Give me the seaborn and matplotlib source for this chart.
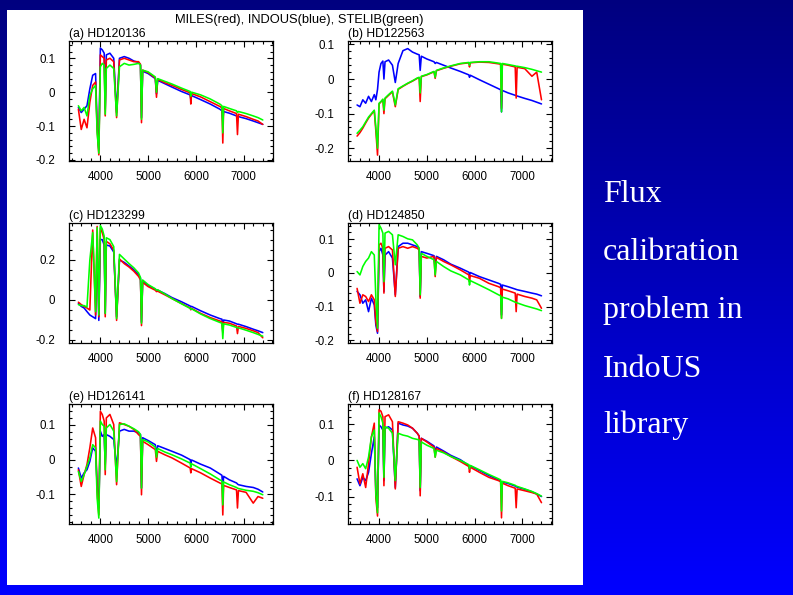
import numpy as np
import pandas as pd
import matplotlib
matplotlib.use("Agg")
import matplotlib.pyplot as plt
from matplotlib.patches import Rectangle
from matplotlib.ticker import MultipleLocator, FuncFormatter
import seaborn as sns

# ---------------- data ----------------
WAVELENGTH = [3540, 3600, 3660, 3720, 3780, 3840, 3900, 3933, 3968, 4000,
              4040, 4080, 4102, 4125, 4200, 4280, 4340, 4400, 4500, 4600,
              4700, 4800, 4840, 4861, 4885, 5000, 5150, 5175, 5200, 5350,
              5500, 5700, 5880, 5893, 5910, 6100, 6300, 6500, 6545, 6563,
              6580, 6700, 6850, 6870, 6890, 7050, 7200, 7300, 7400]

LIBRARIES = ["INDOUS", "MILES", "STELIB"]
PANEL_TITLES = ["(a) HD120136", "(b) HD122563", "(c) HD123299",
                "(d) HD124850", "(e) HD126141", "(f) HD128167"]
SUPTITLE = "MILES(red), INDOUS(blue), STELIB(green)"
SIDE_TEXT = ["Flux", "calibration", "problem in", "IndoUS", "library"]

A_INDOUS = [-0.045, -0.060, -0.050, -0.040, 0.010, 0.050, 0.055, -0.100, -0.170, 0.130,
            0.125, 0.115, -0.050, 0.110, 0.115, 0.100, -0.060, 0.100, 0.105, 0.100,
            0.092, 0.088, 0.080, -0.075, 0.062, 0.055, 0.040, -0.005, 0.035, 0.025,
            0.015, 0.002, -0.008, -0.020, -0.010, -0.022, -0.035, -0.050, -0.055, -0.085,
            -0.057, -0.062, -0.070, -0.072, -0.072, -0.078, -0.085, -0.090, -0.095]
A_MILES = [-0.050, -0.110, -0.080, -0.105, -0.030, 0.020, 0.030, -0.110, -0.185, 0.110,
           0.105, 0.100, -0.070, 0.095, 0.100, 0.090, -0.075, 0.095, 0.100, 0.095,
           0.090, 0.090, 0.082, -0.090, 0.065, 0.058, 0.042, -0.015, 0.038, 0.028,
           0.020, 0.008, -0.002, -0.035, -0.004, -0.014, -0.028, -0.042, -0.046, -0.150,
           -0.048, -0.055, -0.063, -0.125, -0.065, -0.072, -0.080, -0.085, -0.095]
A_STELIB = [-0.040, -0.055, -0.045, -0.070, -0.010, 0.010, 0.020, -0.120, -0.180, 0.075,
            0.085, 0.080, -0.065, 0.070, 0.080, 0.070, -0.070, 0.075, 0.085, 0.080,
            0.082, 0.085, 0.080, -0.080, 0.065, 0.060, 0.045, 0.000, 0.040, 0.032,
            0.024, 0.012, 0.002, -0.012, 0.000, -0.008, -0.020, -0.035, -0.040, -0.120,
            -0.042, -0.048, -0.055, -0.060, -0.057, -0.063, -0.070, -0.075, -0.082]

B_INDOUS = [-0.075, -0.080, -0.060, -0.070, -0.050, -0.065, -0.045, -0.060, -0.030, 0.020,
            0.045, 0.052, 0.000, 0.050, 0.055, 0.040, -0.010, 0.045, 0.082, 0.088,
            0.078, 0.072, 0.070, 0.025, 0.066, 0.058, 0.050, 0.045, 0.048, 0.040,
            0.032, 0.022, 0.012, 0.005, 0.011, -0.002, -0.015, -0.028, -0.031, -0.095,
            -0.033, -0.040, -0.047, -0.048, -0.049, -0.056, -0.062, -0.067, -0.072]
B_MILES = [-0.165, -0.155, -0.142, -0.127, -0.113, -0.102, -0.092, -0.150, -0.220, -0.072,
           -0.066, -0.060, -0.100, -0.057, -0.047, -0.037, -0.080, -0.030, -0.021, -0.013,
           -0.006, 0.002, 0.004, -0.065, 0.007, 0.012, 0.021, 0.002, 0.024, 0.031,
           0.037, 0.044, 0.047, 0.035, 0.047, 0.049, 0.048, 0.044, 0.043, -0.085,
           0.043, 0.040, 0.035, -0.055, 0.034, 0.030, 0.008, 0.020, -0.060]
B_STELIB = [-0.157, -0.148, -0.138, -0.124, -0.110, -0.100, -0.090, -0.140, -0.200, -0.070,
            -0.065, -0.058, -0.090, -0.055, -0.045, -0.035, -0.075, -0.028, -0.020, -0.012,
            -0.005, 0.003, 0.005, -0.040, 0.008, 0.013, 0.022, 0.005, 0.025, 0.032,
            0.038, 0.045, 0.048, 0.040, 0.048, 0.050, 0.050, 0.046, 0.045, -0.095,
            0.045, 0.042, 0.038, 0.037, 0.037, 0.033, 0.028, 0.024, 0.020]

C_INDOUS = [-0.018, -0.032, -0.040, -0.058, -0.075, -0.084, -0.093, 0.275, -0.102, 0.302,
            0.302, 0.275, -0.067, 0.275, 0.270, 0.240, -0.084, 0.200, 0.188, 0.170,
            0.151, 0.126, 0.109, -0.111, 0.095, 0.072, 0.054, 0.049, 0.049, 0.032,
            0.012, -0.009, -0.030, -0.035, -0.032, -0.054, -0.075, -0.093, -0.096, -0.154,
            -0.100, -0.105, -0.119, -0.121, -0.121, -0.133, -0.146, -0.154, -0.163]
C_MILES = [-0.011, -0.023, -0.032, -0.040, -0.050, 0.350, -0.075, 0.368, -0.084, 0.360,
           0.337, 0.302, -0.084, 0.293, 0.281, 0.249, -0.102, 0.205, 0.182, 0.165,
           0.144, 0.118, 0.100, -0.128, 0.088, 0.067, 0.049, 0.042, 0.044, 0.026,
           0.007, -0.018, -0.040, -0.049, -0.042, -0.067, -0.088, -0.105, -0.109, -0.163,
           -0.112, -0.116, -0.130, -0.168, -0.132, -0.142, -0.154, -0.163, -0.189]
C_STELIB = [-0.023, -0.028, -0.028, -0.035, 0.200, 0.337, -0.058, 0.362, -0.075, 0.372,
            0.355, 0.319, -0.067, 0.311, 0.302, 0.267, -0.093, 0.228, 0.205, 0.182,
            0.161, 0.135, 0.112, -0.116, 0.100, 0.077, 0.056, 0.049, 0.051, 0.030,
            0.007, -0.019, -0.042, -0.046, -0.044, -0.070, -0.093, -0.112, -0.116, -0.193,
            -0.119, -0.125, -0.137, -0.139, -0.139, -0.151, -0.163, -0.172, -0.181]

D_INDOUS = [-0.055, -0.065, -0.090, -0.080, -0.115, -0.075, -0.095, -0.155, -0.179, 0.063,
            0.073, 0.053, -0.055, 0.053, 0.063, 0.044, -0.065, 0.078, 0.088, 0.088,
            0.083, 0.078, 0.073, -0.070, 0.063, 0.058, 0.051, 0.014, 0.049, 0.039,
            0.026, 0.014, 0.002, -0.006, 0.001, -0.011, -0.021, -0.031, -0.034, -0.125,
            -0.036, -0.041, -0.048, -0.049, -0.050, -0.055, -0.060, -0.063, -0.068]
D_MILES = [-0.046, -0.090, -0.065, -0.070, -0.085, -0.065, -0.080, -0.145, -0.174, 0.083,
           0.088, 0.073, -0.060, 0.073, 0.078, 0.068, -0.070, 0.073, 0.078, 0.073,
           0.078, 0.073, 0.068, -0.075, 0.049, 0.044, 0.049, -0.011, 0.046, 0.034,
           0.024, 0.009, -0.006, -0.026, -0.008, -0.016, -0.031, -0.041, -0.044, -0.135,
           -0.048, -0.053, -0.060, -0.115, -0.063, -0.070, -0.075, -0.080, -0.105]
D_STELIB = [0.004, -0.006, 0.019, 0.034, 0.044, 0.063, 0.053, -0.075, -0.164, 0.143,
            0.133, 0.118, -0.026, 0.118, 0.123, 0.113, 0.024, 0.113, 0.108, 0.101,
            0.098, 0.083, 0.073, -0.065, 0.058, 0.049, 0.039, -0.006, 0.034, 0.019,
            0.006, -0.006, -0.021, -0.036, -0.023, -0.036, -0.050, -0.065, -0.068, -0.135,
            -0.072, -0.077, -0.087, -0.088, -0.089, -0.097, -0.103, -0.107, -0.112]

E_INDOUS = [-0.024, -0.053, -0.038, -0.029, -0.005, 0.034, 0.024, -0.072, -0.139, 0.082,
            0.067, 0.072, -0.014, 0.072, 0.067, 0.058, -0.024, 0.082, 0.087, 0.082,
            0.082, 0.077, 0.072, -0.082, 0.063, 0.055, 0.043, 0.014, 0.040, 0.032,
            0.024, 0.013, 0.000, -0.010, -0.001, -0.013, -0.024, -0.041, -0.045, -0.087,
            -0.048, -0.058, -0.067, -0.070, -0.072, -0.077, -0.080, -0.085, -0.093]
E_MILES = [-0.029, -0.077, -0.043, -0.014, 0.034, 0.091, 0.063, -0.091, -0.159, 0.139,
           0.130, 0.111, -0.043, 0.120, 0.130, 0.101, -0.072, 0.106, 0.101, 0.096,
           0.087, 0.072, 0.067, -0.101, 0.053, 0.043, 0.029, -0.005, 0.024, 0.014,
           0.005, -0.010, -0.024, -0.038, -0.026, -0.038, -0.053, -0.067, -0.070, -0.159,
           -0.074, -0.080, -0.087, -0.139, -0.089, -0.094, -0.125, -0.106, -0.111]
E_STELIB = [-0.034, -0.063, -0.043, -0.019, 0.005, 0.043, 0.034, -0.111, -0.168, 0.111,
            0.101, 0.096, -0.029, 0.091, 0.101, 0.082, -0.063, 0.101, 0.103, 0.096,
            0.089, 0.080, 0.072, -0.082, 0.058, 0.051, 0.036, 0.007, 0.032, 0.022,
            0.014, 0.002, -0.010, -0.022, -0.012, -0.026, -0.041, -0.058, -0.061, -0.130,
            -0.064, -0.072, -0.080, -0.082, -0.083, -0.088, -0.091, -0.095, -0.101]

F_INDOUS = [-0.051, -0.070, -0.047, -0.056, -0.033, 0.019, 0.065, -0.084, -0.131, 0.098,
            0.093, 0.084, -0.056, 0.089, 0.093, 0.084, -0.075, 0.103, 0.098, 0.095,
            0.089, 0.075, 0.067, -0.084, 0.061, 0.053, 0.040, 0.023, 0.037, 0.026,
            0.014, 0.002, -0.014, -0.021, -0.015, -0.028, -0.042, -0.054, -0.057, -0.079,
            -0.060, -0.064, -0.071, -0.073, -0.074, -0.080, -0.087, -0.093, -0.100]
F_MILES = [-0.019, -0.065, -0.037, -0.075, -0.009, 0.065, 0.103, -0.103, -0.154, 0.140,
           0.136, 0.121, -0.070, 0.121, 0.126, 0.107, -0.079, 0.107, 0.103, 0.098,
           0.089, 0.075, 0.067, -0.098, 0.061, 0.051, 0.037, 0.009, 0.033, 0.023,
           0.011, -0.003, -0.017, -0.033, -0.019, -0.033, -0.047, -0.056, -0.059, -0.159,
           -0.063, -0.070, -0.077, -0.131, -0.079, -0.084, -0.089, -0.093, -0.117]
F_STELIB = [0.000, -0.019, -0.009, -0.023, 0.009, 0.065, 0.084, -0.093, -0.145, 0.131,
            0.121, 0.103, -0.047, 0.093, 0.089, 0.075, -0.056, 0.075, 0.070, 0.067,
            0.061, 0.058, 0.056, -0.075, 0.051, 0.042, 0.033, 0.009, 0.028, 0.021,
            0.011, 0.000, -0.012, -0.023, -0.014, -0.026, -0.039, -0.051, -0.054, -0.140,
            -0.058, -0.062, -0.069, -0.071, -0.072, -0.079, -0.086, -0.092, -0.099]

PANEL_SERIES = [
    (A_INDOUS, A_MILES, A_STELIB),
    (B_INDOUS, B_MILES, B_STELIB),
    (C_INDOUS, C_MILES, C_STELIB),
    (D_INDOUS, D_MILES, D_STELIB),
    (E_INDOUS, E_MILES, E_STELIB),
    (F_INDOUS, F_MILES, F_STELIB),
]
PANEL_YLIM = [(-0.203, 0.151), (-0.237, 0.110), (-0.215, 0.385),
              (-0.208, 0.148), (-0.185, 0.160), (-0.176, 0.156)]
PANEL_YMAJOR = [0.1, 0.1, 0.2, 0.1, 0.1, 0.1]
PANEL_YMINOR = [0.02, 0.02, 0.05, 0.02, 0.02, 0.02]
XLIM = (3350, 7620)

# ---------------- style ----------------
sns.set_theme(style="white")
plt.rcParams["font.family"] = ["Liberation Sans", "DejaVu Sans"]

W, H = 793, 595
fig = plt.figure(figsize=(W / 100, H / 100), dpi=100)

# background gradient + white plot sheet
bg = fig.add_axes([0, 0, 1, 1], zorder=-10)
t = np.linspace(0, 1, 300).reshape(-1, 1)
img = np.zeros((300, 1, 3))
img[..., 2] = 0.50 + 0.50 * t
bg.imshow(img, extent=[0, 1, 0, 1], aspect="auto", origin="upper")
bg.add_patch(Rectangle((7 / W, 1 - 585 / H), 576 / W, 575 / H,
                       facecolor="white", edgecolor="none"))
bg.set_xlim(0, 1)
bg.set_ylim(0, 1)
bg.axis("off")

palette = {"INDOUS": "#0000ff", "MILES": "#ff0000", "STELIB": "#00ff00"}

lefts = [69.3, 348.0]
tops = [41, 223, 404]
aw, ah = 204, 120

def fmt(v, pos):
    if abs(v) < 1e-9:
        return "0"
    return f"{v:.1f}"

for i, (series, title) in enumerate(zip(PANEL_SERIES, PANEL_TITLES)):
    r, c = divmod(i, 2)
    ax = fig.add_axes([lefts[c] / W, 1 - (tops[r] + ah) / H, aw / W, ah / H])
    ax.set_facecolor("white")
    df = pd.DataFrame({
        "wavelength": np.tile(WAVELENGTH, 3),
        "flux": np.concatenate([np.asarray(s) for s in series]),
        "library": np.repeat(LIBRARIES, len(WAVELENGTH)),
    })
    sns.lineplot(data=df, x="wavelength", y="flux", hue="library",
                 hue_order=LIBRARIES, palette=palette, estimator=None,
                 sort=False, legend=False, linewidth=1.15, ax=ax)
    ax.set_xlim(*XLIM)
    ax.set_ylim(*PANEL_YLIM[i])
    ax.set_xlabel("")
    ax.set_ylabel("")
    ax.xaxis.set_major_locator(MultipleLocator(1000))
    ax.xaxis.set_minor_locator(MultipleLocator(200))
    ax.yaxis.set_major_locator(MultipleLocator(PANEL_YMAJOR[i]))
    ax.yaxis.set_minor_locator(MultipleLocator(PANEL_YMINOR[i]))
    ax.yaxis.set_major_formatter(FuncFormatter(fmt))
    ax.tick_params(which="both", direction="in", top=True, right=True,
                   bottom=True, left=True, color="black", width=0.8,
                   labelsize=8.3, labelcolor="black")
    ax.tick_params(which="major", length=4.5)
    ax.tick_params(which="minor", length=2.4)
    ax.tick_params(axis="x", which="major", pad=7)
    ax.tick_params(axis="y", which="major", pad=10)
    for sp in ax.spines.values():
        sp.set_color("black")
        sp.set_linewidth(0.9)
        sp.set_visible(True)
    ax.text(0.0, 1.012, title, transform=ax.transAxes, ha="left",
            va="bottom", fontsize=8.7, color="black")

fig.text(299 / W, 1 - 20 / H, SUPTITLE, ha="center", va="center",
         fontsize=9.3, color="black")

baselines = [202, 260, 318, 377, 433]
for txt, yb in zip(SIDE_TEXT, baselines):
    fig.text(603 / W, 1 - yb / H, txt, ha="left", va="baseline",
             color="white", fontsize=23, family=["Liberation Serif", "DejaVu Serif"])

fig.savefig("out.png", dpi=100)
